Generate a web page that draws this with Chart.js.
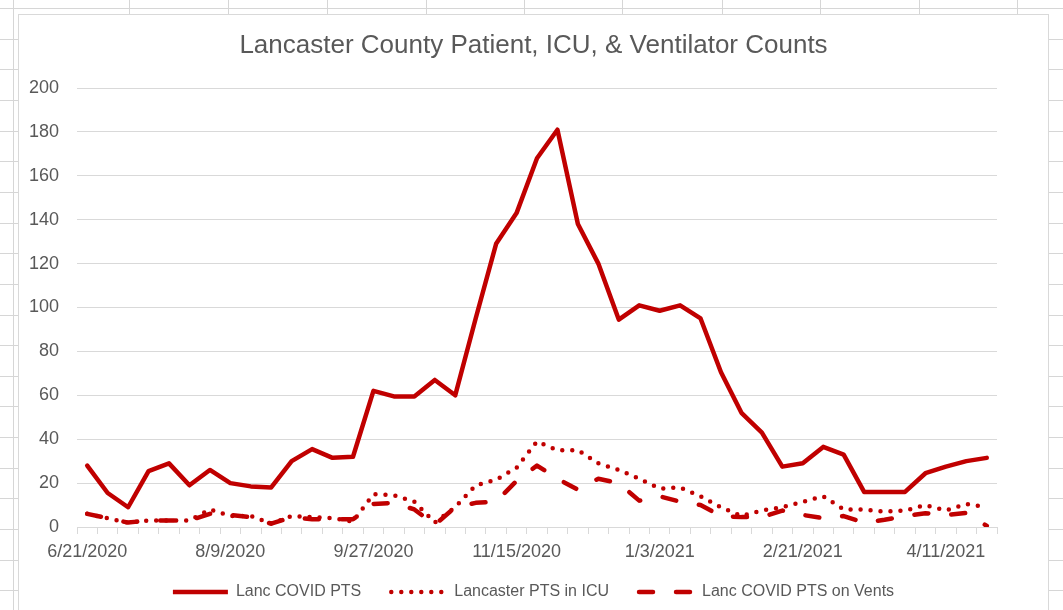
<!DOCTYPE html>
<html><head><meta charset="utf-8">
<script src="https://cdn.jsdelivr.net/npm/chart.js@4.4.1/dist/chart.umd.min.js"></script>
<style>
html,body{margin:0;padding:0;background:#fff;width:1063px;height:610px;overflow:hidden;position:relative;}
.vl{position:absolute;top:0;width:1px;height:610px;background:#d6d6d6;}
.hl{position:absolute;left:0;height:1px;width:1063px;background:#d6d6d6;}
#box{position:absolute;left:18px;top:14px;width:1031px;height:600px;background:#fff;border:1px solid #d9d9d9;box-sizing:border-box;}
#c{position:absolute;left:19px;top:15px;}
</style></head>
<body>
<div id="grid"></div>
<div id="box"></div>
<canvas id="c" width="1029" height="595"></canvas>
<script>
const dates = ["6/21/2020","6/28/2020","7/5/2020","7/12/2020","7/19/2020","7/26/2020","8/2/2020","8/9/2020","8/16/2020","8/23/2020","8/30/2020","9/6/2020","9/13/2020","9/20/2020","9/27/2020","10/4/2020","10/11/2020","10/18/2020","10/25/2020","11/1/2020","11/8/2020","11/15/2020","11/22/2020","11/29/2020","12/6/2020","12/13/2020","12/20/2020","12/27/2020","1/3/2021","1/10/2021","1/17/2021","1/24/2021","1/31/2021","2/7/2021","2/14/2021","2/21/2021","2/28/2021","3/7/2021","3/14/2021","3/21/2021","3/28/2021","4/4/2021","4/11/2021","4/18/2021","4/25/2021"];
const covidPts = [28,15.5,9,25.5,29,19,26,20,18.5,18,30,35.5,31.5,32,62,59.5,59.5,67,60,95,129,143,168,181,138,120,94.5,101,98.5,101,95,70.5,52,43,27.5,29,36.5,33,16,16,16,24.5,27.5,30,31.5];
const icuPts = [6,4,2,3,3,3,8,5,5,1.5,5,4.5,4,2.5,15,14.5,11.5,2,9,19,21.5,27,39,35,35,29,26,22,17.5,18,14,9,5,7.5,9,11.5,14,8,8,7,7.5,10,7.5,10.5,9];
const ventPts = [6,4,2,3,3,3,6,5.5,4.5,1.5,4.5,3.5,3.5,3.5,10.5,11,8,1,9,11,11.5,21,28,22,17,22,20,12,14,11.5,10,5,4.5,4.5,7.5,5.5,4,5,2,3.3,5,6.3,5.5,6.4,0.5];
const seriesNames = ["Lanc COVID PTS","Lancaster PTS in ICU","Lanc COVID PTS on Vents"];
const yTicks = {min:0, max:200, step:20};
const labelEvery = 7;
const titleText = "Lancaster County Patient, ICU, & Ventilator Counts";

// spreadsheet cell lines (background)
const g = document.getElementById('grid');
[13,129,228,327,426,524,622,722,820,919,1017].forEach(x=>{const d=document.createElement('div');d.className='vl';d.style.left=x+'px';g.appendChild(d);});
for(let k=0;k<20;k++){const d=document.createElement('div');d.className='hl';d.style.top=Math.round(8+30.65*k)+'px';g.appendChild(d);}

const FONT = "'Liberation Sans', Arial, sans-serif";
const RED = '#C00000';
const LW = 4.5;
Chart.defaults.font.family = FONT;
Chart.defaults.color = '#595959';

const dashes = [[], [0, 10], [14, 23]];
const caps = ['butt', 'round', 'round'];

new Chart(document.getElementById('c'), {
  type: 'line',
  data: {
    labels: dates,
    datasets: [
      {label: seriesNames[0], data: covidPts, borderColor: RED, backgroundColor: RED, borderWidth: LW, pointRadius: 0, tension: 0, borderJoinStyle: 'round', borderCapStyle: 'round'},
      {label: seriesNames[1], data: icuPts, borderColor: RED, backgroundColor: RED, borderWidth: LW, pointRadius: 0, tension: 0, borderDash: dashes[1], borderCapStyle: 'round', borderJoinStyle: 'round'},
      {label: seriesNames[2], data: ventPts, borderColor: RED, backgroundColor: RED, borderWidth: LW, pointRadius: 0, tension: 0, borderDash: dashes[2], borderCapStyle: 'round', borderJoinStyle: 'round'}
    ]
  },
  options: {
    responsive: false,
    animation: false,
    devicePixelRatio: 1,
    layout: {padding: {left: 0, right: 0, top: 0, bottom: 0}},
    plugins: {
      title: {display: true, text: titleText, color: '#595959', font: {size: 26, weight: 'normal', family: FONT}, padding: {top: 15.4, bottom: 26.4}},
      legend: {position: 'bottom', labels: {
        usePointStyle: true, pointStyle: 'line', pointStyleWidth: 55, boxWidth: 55, padding: 30, color: '#595959', font: {size: 16},
        generateLabels: function(chart){
          const items = Chart.defaults.plugins.legend.labels.generateLabels(chart);
          items.forEach((it, i) => { it.lineDash = dashes[i]; it.lineCap = caps[i]; it.lineWidth = LW; it.strokeStyle = RED; it.fillStyle = RED; it.pointStyle = 'line'; });
          return items;
        }
      }},
      tooltip: {enabled: false}
    },
    scales: {
      x: {
        offset: true,
        grid: {offset: true, drawOnChartArea: false, drawTicks: true, tickLength: 7, color: '#d9d9d9', lineWidth: 1},
        border: {display: true, color: '#d9d9d9'},
        ticks: {autoSkip: false, maxRotation: 0, minRotation: 0, mirror: true, padding: -35.8, color: '#595959', font: {size: 18},
          callback: function(v, i){ return i % labelEvery === 0 ? dates[i] : ''; }},
        afterFit: function(a){ a.height = 27; }
      },
      y: {
        min: yTicks.min, max: yTicks.max,
        grid: {color: '#d9d9d9', lineWidth: 1, drawTicks: false},
        border: {display: false},
        ticks: {stepSize: yTicks.step, padding: 18, color: '#595959', font: {size: 18}},
        afterFit: function(a){ a.width = 58; }
      },
      y2: {
        position: 'right', display: true,
        grid: {display: false}, border: {display: false}, ticks: {display: false},
        afterFit: function(a){ a.width = 51; }
      }
    }
  }
});
</script>
</body></html>
